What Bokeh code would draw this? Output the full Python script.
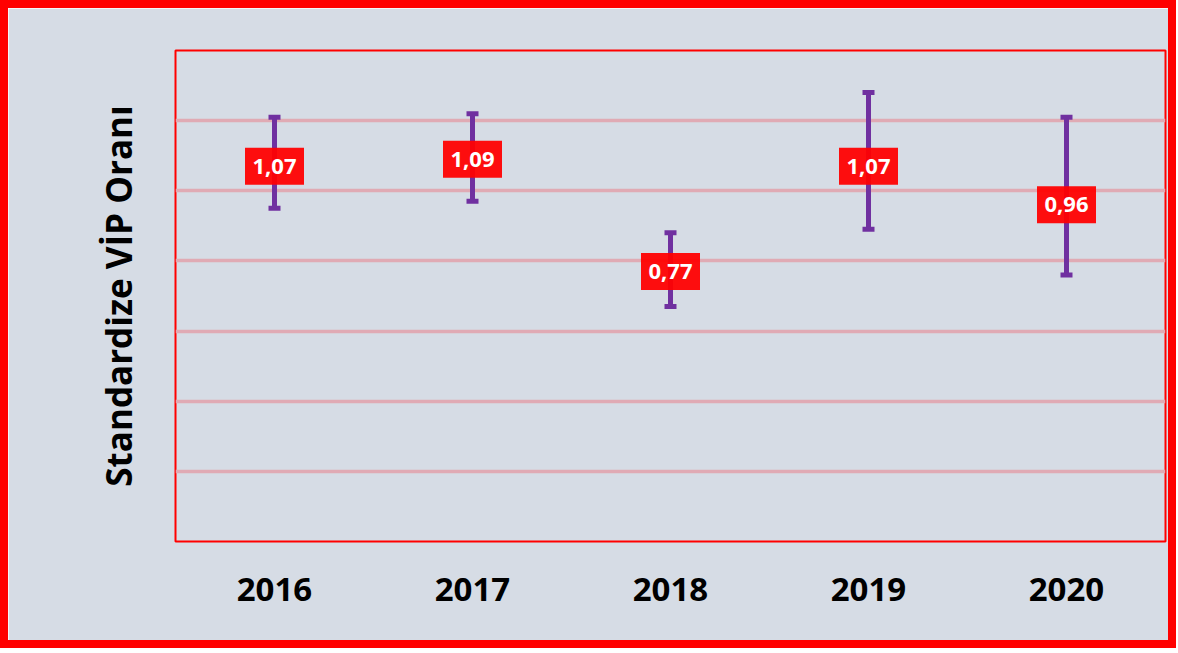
from bokeh.plotting import figure
from bokeh.models import ColumnDataSource, FactorRange, Range1d, FixedTicker, Title
from bokeh.embed import file_html
from bokeh.resources import INLINE
from bokeh.core.properties import value

years = ["2016", "2017", "2018", "2019", "2020"]
vip = [1.07, 1.09, 0.77, 1.07, 0.96]
lower = [0.95, 0.97, 0.67, 0.89, 0.76]
upper = [1.21, 1.22, 0.88, 1.28, 1.21]
labels = ["1,07", "1,09", "0,77", "1,07", "0,96"]
y_ticks = [0.2, 0.4, 0.6, 0.8, 1.0, 1.2]

src = ColumnDataSource(dict(year=years, vip=vip, lower=lower, upper=upper, label=labels))

BG = "#d6dce5"
p = figure(x_range=FactorRange(*years), y_range=Range1d(0, 1.4),
           width=1176, height=648, output_backend="svg", toolbar_location=None,
           min_border_left=167, min_border_right=19, min_border_top=42, min_border_bottom=115)
p.styles = {"border": "8px solid #ff0000"}
p.background_fill_color = BG
p.border_fill_color = BG
p.outline_line_color = "#ff0000"
p.outline_line_width = 2

p.xgrid.grid_line_color = None
p.yaxis.visible = False
p.ygrid.ticker = FixedTicker(ticks=y_ticks)
p.ygrid.grid_line_color = "#e0aab4"
p.ygrid.grid_line_width = 3.5

ytitle = Title(text="Standardize VİP Oranı", align="center", text_font="Open Sans",
               text_font_style="bold", text_font_size="35px", text_color="black",
               standoff=67)
p.add_layout(ytitle, "left")

xa = p.xaxis[0]
xa.axis_line_color = None
xa.major_tick_line_color = None
xa.minor_tick_line_color = None
xa.major_label_text_font = "Open Sans"
xa.major_label_text_font_style = "bold"
xa.major_label_text_font_size = "33px"
xa.major_label_text_color = "black"
xa.major_label_standoff = 30

PURPLE = "#7030a0"
p.segment(x0="year", y0="lower", x1="year", y1="upper", source=src,
          line_color=PURPLE, line_width=5)
p.rect(x="year", y="upper", width=12, height=5, width_units="screen", height_units="screen",
       source=src, fill_color=PURPLE, line_color=None)
p.rect(x="year", y="lower", width=12, height=5, width_units="screen", height_units="screen",
       source=src, fill_color=PURPLE, line_color=None)
p.rect(x="year", y="vip", width=59, height=37, width_units="screen", height_units="screen",
       source=src, fill_color="#ff0000", fill_alpha=0.94, line_color=None)
p.text(x="year", y="vip", text="label", source=src, text_align="center", text_baseline="middle",
       text_color="white", text_font=value("Open Sans"), text_font_style="bold",
       text_font_size="22px")

open("out.html", "w").write(file_html(p, INLINE))
